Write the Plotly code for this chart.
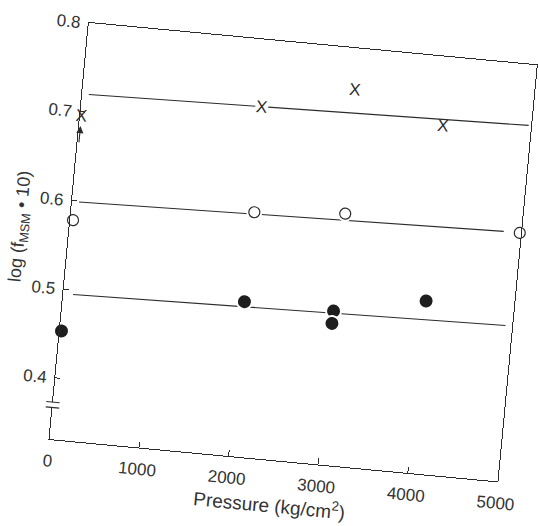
import plotly.graph_objects as go

# ---- data ----
pressure_x = [16, 2001, 3014, 4026]
logf_x = [0.694, 0.723, 0.752, 0.721]

pressure_open = [32, 2029, 3036, 4987]
logf_open = [0.578, 0.606, 0.614, 0.611]

pressure_filled = [20, 2013, 3009, 3004, 4022]
logf_filled = [0.453, 0.505, 0.504, 0.490, 0.525]

# fitted straight lines (end points)
fit_x_p = [75, 4973]
fit_x_y = [0.720, 0.732]
fit_open_p = [79, 4808]
fit_open_y = [0.599, 0.611]
fit_filled_p = [110, 4926]
fit_filled_y = [0.495, 0.506]

x_ticks = [0, 1000, 2000, 3000, 4000, 5000]
y_ticks = [0.4, 0.5, 0.6, 0.7, 0.8]

INK = "#2b2b2b"
TXT = "#333333"
FONT = "Liberation Sans"

fig = go.Figure()

for px, py in [(fit_x_p, fit_x_y), (fit_open_p, fit_open_y), (fit_filled_p, fit_filled_y)]:
    fig.add_trace(go.Scatter(x=px, y=py, mode="lines",
                             line=dict(color=INK, width=1.1),
                             hoverinfo="skip", showlegend=False))

# X marks (typed letters) with white background to break the line
fig.add_trace(go.Scatter(
    x=pressure_x, y=logf_x, mode="markers+text", text=["X"] * len(pressure_x),
    textposition="middle center",
    textfont=dict(family=FONT, size=17, color=INK),
    marker=dict(symbol="square", size=13, color="white", line=dict(width=0)),
    cliponaxis=False, showlegend=False))

# open circles
fig.add_trace(go.Scatter(
    x=pressure_open, y=logf_open, mode="markers",
    marker=dict(symbol="circle", size=16, color="white", line=dict(width=0)),
    cliponaxis=False, showlegend=False, hoverinfo="skip"))
fig.add_trace(go.Scatter(
    x=pressure_open, y=logf_open, mode="markers",
    marker=dict(symbol="circle", size=11, color="white", line=dict(color=INK, width=1.2)),
    cliponaxis=False, showlegend=False))

# filled circles
fig.add_trace(go.Scatter(
    x=pressure_filled, y=logf_filled, mode="markers",
    marker=dict(symbol="circle", size=15, color="#1e1e1e", line=dict(color="white", width=2)),
    cliponaxis=False, showlegend=False))

axis_common = dict(showline=True, mirror=True, linecolor=INK, linewidth=1.1,
                   showgrid=False, zeroline=False, ticks="inside", automargin=False,
                   tickcolor=INK, tickwidth=1.1, ticklabeloverflow="allow",
                   tickfont=dict(family=FONT, size=17, color=TXT))

fig.update_layout(
    width=539, height=526,
    margin=dict(l=67, r=22, t=41, b=67),
    paper_bgcolor="white", plot_bgcolor="white",
    xaxis=dict(range=[0, 5000], tickvals=x_ticks, ticklen=6,
               ticktext=[str(v) for v in x_ticks],
               ticklabelstandoff=6,
               title=dict(text="Pressure (kg/cm<sup>2</sup>)", standoff=8,
                          font=dict(family=FONT, size=19, color=TXT)),
               **axis_common),
    yaxis=dict(range=[0.331, 0.8], tickvals=y_ticks, ticklen=5,
               ticktext=["0.4", "0.5", "0.6", "0.7", "0.8"],
               ticklabelstandoff=4,
               title=dict(text="log (f<sub>MSM</sub> • 10)", standoff=6,
                          font=dict(family=FONT, size=18, color=TXT)),
               **axis_common),
    shapes=[
        dict(type="rect", xref="paper", yref="y", x0=-0.008, x1=0.008,
             y0=0.3666, y1=0.3727, fillcolor="white", line=dict(width=0), layer="above"),
        dict(type="line", xref="paper", yref="y", x0=-0.015, x1=0.015,
             y0=0.3727, y1=0.3727, line=dict(color=INK, width=1.1), layer="above"),
        dict(type="line", xref="paper", yref="y", x0=-0.015, x1=0.015,
             y0=0.3666, y1=0.3666, line=dict(color=INK, width=1.1), layer="above"),
    ],
    annotations=[
        dict(x=pressure_x[0], y=0.684, xref="x", yref="y", text="",
             showarrow=True, arrowhead=2, arrowsize=1.3, arrowwidth=1.1,
             arrowcolor=INK, ax=0, ay=18),
    ],
)

post = """
document.body.style.margin='0';
document.body.style.overflow='hidden';
document.documentElement.style.overflow='hidden';
var gd=document.getElementById('{plot_id}');
gd.style.transformOrigin='50% 50%';
gd.style.transform='rotate(5.4deg)';
"""

fig.write_html("out.html", post_script=post)
